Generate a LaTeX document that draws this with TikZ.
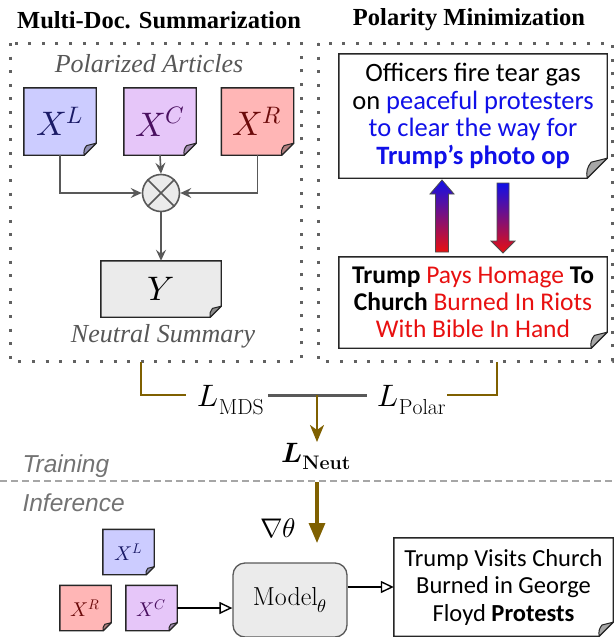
\documentclass[tikz,border=0pt]{standalone}
\usepackage{fontspec}
\usepackage{unicode-math}
\setmathfont{Latin Modern Math}
\newfontfamily\calfont{Carlito}
\newfontfamily\arialfont{Liberation Sans}
\newfontfamily\capfont{Liberation Serif}
\usetikzlibrary{arrows.meta, backgrounds, calc}

\definecolor{docL}{HTML}{CCCCFF}
\definecolor{docC}{HTML}{E6C6F9}
\definecolor{docR}{HTML}{FFB6B6}
\definecolor{txtL}{HTML}{1A1A66}
\definecolor{txtC}{HTML}{4A1060}
\definecolor{txtR}{HTML}{6B0A0A}
\definecolor{paper}{HTML}{EBEBEB}
\definecolor{linegray}{HTML}{595959}
\definecolor{lossbrown}{HTML}{7F6000}
\definecolor{polblue}{HTML}{1010E8}
\definecolor{polred}{HTML}{E81010}

% folded-corner outline drawn behind a named node
% #1 node, #2 fold size, #3 body fill, #4 flap fill
\newcommand\foldbox[4]{%
  \begin{scope}[on background layer]
    \filldraw[fill=#3, draw=black!85, line width=1.4pt, line join=miter]
      (#1.north west) -- (#1.north east) -- ([yshift=#2]#1.south east)
      -- ([xshift=-#2]#1.south east) -- (#1.south west) -- cycle;
    \filldraw[fill=#4, draw=black!85, line width=1pt, line join=round]
      ([xshift=-#2]#1.south east) to[bend left=25]
      ([xshift=-0.8*#2, yshift=0.8*#2]#1.south east)
      -- ([yshift=#2]#1.south east) -- cycle;
  \end{scope}}

\tikzset{
  doc/.style={inner sep=0pt, font=\fontsize{34}{40}\selectfont},
  smalldoc/.style={inner sep=0pt, minimum width=51pt, minimum height=45pt,
    font=\fontsize{20}{24}\selectfont},
  flow/.style={draw=linegray, line width=1.6pt,
    -{Stealth[length=11pt, width=10pt, inset=4pt]}},
  frame/.style={draw=black!62, line width=3pt, dash pattern=on 3pt off 10.6pt},
  title/.style={font=\capfont\bfseries\fontsize{24.5}{28}\selectfont},
  caption/.style={text=black!66, font=\capfont\itshape\fontsize{26}{30}\selectfont},
  phase/.style={text=black!55, anchor=base west,
    font=\arialfont\itshape\fontsize{24.5}{28}\selectfont},
  headline/.style={inner sep=0pt, align=center,
    font=\calfont\fontsize{26.5}{27.4}\selectfont},
  lossline/.style={draw=lossbrown, line width=2.6pt},
  lossarrow/.style={draw=lossbrown, line width=2.6pt,
    -{Stealth[length=17pt, width=14pt, inset=5pt]}},
  loss/.style={font=\fontsize{31}{36}\selectfont},
  openarrow/.style={draw=black, line width=1.4pt,
    -{Triangle[open, length=13pt, width=12pt, line width=1.4pt]}},
  polarrow/.style={top color=polblue, bottom color=polred,
    draw=black!70, line width=0.8pt}
}

\begin{document}
\begin{tikzpicture}[x=1pt, y=-1pt]
\useasboundingbox (0,0) rectangle (615,637);

% ---------------- section titles ----------------
\node[title] (t1) at (159,20) {Multi-Doc. Summarization};
\node[title] (t2) at (469,20) {Polarity Minimization};

% ---------------- dotted frames ----------------
\draw[frame] (10,43) rectangle (301,361);
\draw[frame] (318,43) rectangle (612,361);

% ---------------- multi-document summarization ----------------
\node[caption] (pa) at (149,64) {Polarized Articles};

\node[doc, minimum width=72pt, minimum height=67pt, text=txtL] (xl) at (60,121.5) {$X^{L}$};
\node[doc, minimum width=72pt, minimum height=67pt, text=txtC] (xc) at (160,121.5) {$X^{C}$};
\node[doc, minimum width=72pt, minimum height=67pt, text=txtR] (xr) at (257.5,121.5) {$X^{R}$};
\foldbox{xl}{12pt}{docL}{docL!70!black}
\foldbox{xc}{12pt}{docC}{docC!70!black}
\foldbox{xr}{12pt}{docR}{docR!70!black}

\node[circle, draw=linegray, fill=paper, line width=1.6pt, minimum size=37pt,
      inner sep=0pt] (ot) at (161,193) {};
\draw[linegray, line width=1.6pt] (ot.north west) -- (ot.south east)
                                  (ot.north east) -- (ot.south west);

\node[doc, minimum width=120pt, minimum height=56pt] (ym) at (161,289) {$Y$};
\foldbox{ym}{11pt}{paper}{black!45}

\draw[flow] (xl.south) |- (ot.west);
\draw[flow] (xr.south) |- (ot.east);
\draw[flow] (xc.south) -- (ot.north);
\draw[flow] (ot.south) -- (ym.north);

\node[caption] (ns) at (163,336) {Neutral Summary};

% ---------------- polarity minimization ----------------
\node[headline, minimum width=268pt, minimum height=124pt] (hl) at (473,116)
  {Officers fire tear gas\\
   on \textcolor{polblue}{peaceful protesters}\\
   \textcolor{polblue}{to clear the way for}\\
   \textcolor{polblue}{\bfseries Trump’s photo op}};
\foldbox{hl}{20pt}{white}{black!35}

\node[headline, minimum width=268pt, minimum height=91pt,
      font=\calfont\fontsize{25.5}{27}\selectfont] (hr) at (473,302.5)
  {\bfseries Trump \mdseries\textcolor{polred}{Pays Homage} \bfseries To\\
   \bfseries Church \mdseries\textcolor{polred}{Burned In Riots}\\
   \textcolor{polred}{With Bible In Hand}};
\foldbox{hr}{16pt}{white}{black!35}

\shadedraw[polarrow] (435.5,252) -- (435.5,194) -- (430,194) -- (442,180)
  -- (454,194) -- (448.5,194) -- (448.5,252) -- cycle;
\shadedraw[polarrow] (497,183) -- (509,183) -- (509,241) -- (515,241)
  -- (503,253) -- (491,241) -- (497,241) -- cycle;

% ---------------- loss combination ----------------
\coordinate (mdsfoot) at (141,362);
\coordinate (mdsend) at (186,395);
\coordinate (polfoot) at (497,362);
\coordinate (polend) at (447,395);
\coordinate (barl) at (268,395);
\coordinate (barr) at (367,395);
\coordinate (barmid) at (317,395);

\draw[lossline] (mdsfoot) |- (mdsend);
\draw[lossline] (polfoot) |- (polend);
\draw[draw=linegray, line width=3pt] (barl) -- (barr);

\node[loss] (lmds) at (231,400) {$L_{\mathrm{MDS}}$};
\node[loss] (lpol) at (412,400) {$L_{\mathrm{Polar}}$};
\node[font=\fontsize{28}{32}\selectfont] (lneut) at (316,456) {$\symbfit{L}_{\mathbf{Neut}}$};

\coordinate (neuttip) at (317,442);
\draw[lossarrow] (barmid) -- (neuttip);

% ---------------- training / inference split ----------------
\node[phase] (train) at (19,472) {Training};
\draw[draw=black!35, line width=1.2pt, dash pattern=on 7pt off 4pt]
  (0,481) coordinate (splitl) -- (615,481) coordinate (splitr);
\node[phase] (infer) at (19,511) {Inference};

\coordinate (gradtop) at (317,482);
\coordinate (gradtip) at (317,543);
\draw[draw=lossbrown, line width=3.2pt,
      -{Stealth[length=20pt, width=16pt, inset=0pt]}] (gradtop) -- (gradtip);
\node[font=\fontsize{27}{30}\selectfont] (grad) at (278,528) {$\nabla\theta$};

% ---------------- inference ----------------
\node[smalldoc, text=txtL] (ixl) at (128.5,552) {$X^{L}$};
\node[smalldoc, text=txtR] (ixr) at (85.5,608) {$X^{R}$};
\node[smalldoc, text=txtC] (ixc) at (151.5,608) {$X^{C}$};
\foldbox{ixl}{8pt}{docL}{docL!70!black}
\foldbox{ixr}{8pt}{docR}{docR!70!black}
\foldbox{ixc}{8pt}{docC}{docC!70!black}

\node[draw=linegray, fill=paper, rounded corners=12pt, line width=1.3pt,
      minimum width=114pt, minimum height=74pt, inner sep=0pt,
      font=\fontsize{26}{30}\selectfont] (model) at (290,600) {Model$_{\theta}$};

\node[headline, minimum width=219pt, minimum height=98pt,
      font=\calfont\fontsize{24.5}{27.5}\selectfont] (out) at (503.5,587)
  {Trump Visits Church\\ Burned in George\\ Floyd \textbf{Protests}};
\foldbox{out}{14pt}{white}{black!35}

\draw[openarrow] (ixc.east) -- (ixc.east -| model.west);
\draw[openarrow] (model.east |- out.west) -- (out.west);
\end{tikzpicture}
\end{document}
